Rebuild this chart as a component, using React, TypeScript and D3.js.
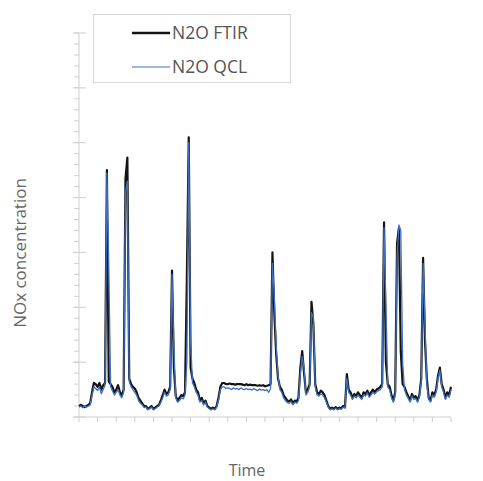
import React from "react";
import * as d3 from "d3";

const ftir: number[] = [
  0.20, 0.22, 0.20, 0.18, 0.20, 0.22, 0.25, 0.45, 0.62, 0.60,
  0.55, 0.62, 0.50, 0.58, 0.62, 4.50, 0.65, 0.60, 0.55, 0.45,
  0.50, 0.58, 0.45, 0.40, 0.50, 4.35, 4.73, 0.70, 0.60, 0.55,
  0.52, 0.45, 0.35, 0.30, 0.25, 0.20, 0.20, 0.15, 0.17, 0.20,
  0.15, 0.17, 0.20, 0.22, 0.30, 0.40, 0.50, 0.42, 0.45, 0.55,
  2.67, 0.90, 0.38, 0.30, 0.35, 0.40, 0.38, 0.45, 2.55, 5.10,
  0.90, 0.70, 0.62, 0.50, 0.45, 0.30, 0.35, 0.25, 0.30, 0.20,
  0.17, 0.15, 0.17, 0.15, 0.20, 0.35, 0.55, 0.62, 0.62, 0.60,
  0.60, 0.61, 0.60, 0.60, 0.59, 0.60, 0.60, 0.60, 0.59, 0.58,
  0.60, 0.58, 0.59, 0.58, 0.58, 0.58, 0.57, 0.58, 0.57, 0.58,
  0.56, 0.57, 0.58, 0.60, 3.00, 1.90, 1.15, 0.70, 0.55, 0.50,
  0.40, 0.35, 0.30, 0.28, 0.32, 0.25, 0.30, 0.28, 0.35, 0.90,
  1.20, 0.80, 0.45, 0.50, 0.60, 2.10, 1.70, 0.60, 0.45, 0.42,
  0.48, 0.45, 0.40, 0.30, 0.20, 0.15, 0.17, 0.15, 0.18, 0.15,
  0.17, 0.16, 0.20, 0.18, 0.78, 0.50, 0.45, 0.35, 0.42, 0.38,
  0.45, 0.40, 0.35, 0.45, 0.42, 0.48, 0.40, 0.45, 0.50, 0.45,
  0.50, 0.52, 0.55, 0.60, 3.55, 1.00, 0.60, 0.55, 0.40, 0.30,
  0.45, 3.17, 3.45, 1.20, 0.60, 0.55, 0.45, 0.38, 0.30, 0.42,
  0.35, 0.38, 0.30, 0.40, 0.70, 2.90, 1.40, 0.70, 0.35, 0.30,
  0.45, 0.40, 0.50, 0.75, 0.90, 0.60, 0.50, 0.35, 0.45, 0.40, 0.55,
];

const qcl: number[] = [
  0.18, 0.20, 0.17, 0.20, 0.18, 0.20, 0.22, 0.40, 0.55, 0.52,
  0.48, 0.55, 0.42, 0.50, 0.58, 4.45, 2.75, 0.55, 0.48, 0.40,
  0.45, 0.50, 0.40, 0.35, 0.45, 4.10, 4.30, 0.65, 0.55, 0.50,
  0.45, 0.40, 0.30, 0.25, 0.22, 0.17, 0.18, 0.13, 0.15, 0.18,
  0.13, 0.15, 0.18, 0.20, 0.27, 0.35, 0.45, 0.38, 0.40, 0.50,
  2.60, 1.30, 0.35, 0.27, 0.30, 0.35, 0.33, 0.40, 1.00, 5.00,
  1.40, 0.62, 0.55, 0.45, 0.40, 0.27, 0.30, 0.22, 0.27, 0.18,
  0.15, 0.13, 0.15, 0.13, 0.18, 0.30, 0.50, 0.55, 0.55, 0.52,
  0.53, 0.52, 0.50, 0.53, 0.51, 0.52, 0.50, 0.53, 0.51, 0.50,
  0.52, 0.50, 0.51, 0.49, 0.52, 0.50, 0.48, 0.51, 0.49, 0.50,
  0.48, 0.50, 0.45, 0.52, 2.80, 2.20, 1.30, 0.75, 0.50, 0.45,
  0.35, 0.30, 0.26, 0.25, 0.28, 0.22, 0.27, 0.25, 0.30, 0.80,
  1.10, 0.90, 0.40, 0.45, 0.55, 1.90, 1.80, 0.55, 0.40, 0.38,
  0.42, 0.40, 0.35, 0.27, 0.18, 0.13, 0.15, 0.13, 0.16, 0.13,
  0.15, 0.14, 0.18, 0.16, 0.70, 0.45, 0.40, 0.32, 0.38, 0.35,
  0.40, 0.36, 0.32, 0.40, 0.38, 0.44, 0.36, 0.40, 0.45, 0.42,
  0.46, 0.48, 0.50, 0.55, 3.45, 2.07, 0.55, 0.50, 0.35, 0.27,
  0.40, 2.90, 3.50, 3.40, 1.00, 0.50, 0.40, 0.34, 0.27, 0.38,
  0.32, 0.34, 0.27, 0.36, 0.65, 2.80, 1.70, 0.60, 0.32, 0.27,
  0.40, 0.36, 0.45, 0.70, 0.85, 0.55, 0.45, 0.32, 0.40, 0.36, 0.50,
];

const seriesNames = ["N2O FTIR", "N2O QCL"];
const seriesColors = ["#141414", "#3f6fc2"];
const xTickValues = d3.range(0, 201, 10);
const yMajorTicks = d3.range(0, 8, 1);
const yMinorTicks = d3.range(0, 7.01, 0.2);

const W = 483;
const H = 481;
const font = "'Open Sans', 'Liberation Sans', sans-serif";

export default function App() {
  const x = d3.scaleLinear().domain([0, 200]).range([79, 451]);
  const y = d3.scaleLinear().domain([0, 7]).range([417, 33]);
  const line = d3
    .line<number>()
    .x((_, i) => x(i))
    .y((v) => y(v));

  const axisColor = "#cfcfcf";
  return (
    <svg
      width={W}
      height={H}
      style={{ position: "absolute", left: 0, top: 0, background: "#fff" }}
    >
      {/* y axis */}
      <line x1={79} x2={79} y1={y(7)} y2={y(0)} stroke={axisColor} strokeWidth={1} />
      {yMinorTicks.map((t, i) => (
        <line key={"m" + i} x1={74} x2={79} y1={y(t)} y2={y(t)} stroke={axisColor} />
      ))}
      {yMajorTicks.map((t) => (
        <line key={"M" + t} x1={73} x2={86} y1={y(t)} y2={y(t)} stroke={axisColor} />
      ))}
      {/* x axis */}
      <line x1={x(0)} x2={x(200)} y1={y(0)} y2={y(0)} stroke={axisColor} />
      {xTickValues.map((t) => (
        <line key={"x" + t} x1={x(t)} x2={x(t)} y1={y(0)} y2={y(0) + 5} stroke={axisColor} />
      ))}

      {/* series */}
      <path d={line(ftir) || ""} fill="none" stroke={seriesColors[0]} strokeWidth={2.2} strokeLinejoin="round" />
      <path d={line(qcl) || ""} fill="none" stroke={seriesColors[1]} strokeWidth={1.3} strokeLinejoin="round" />

      {/* legend */}
      <rect x={93.5} y={14.5} width={197} height={68} fill="#fff" stroke="#d9d9d9" />
      <line x1={132} x2={170} y1={33} y2={33} stroke={seriesColors[0]} strokeWidth={2.5} />
      <line x1={132} x2={170} y1={67} y2={67} stroke={seriesColors[1]} strokeWidth={1.2} />
      <text x={172} y={33} dy="0.35em" fontFamily={font} fontSize={17.5} fill="#555">
        {seriesNames[0]}
      </text>
      <text x={172} y={67} dy="0.35em" fontFamily={font} fontSize={17.5} fill="#555">
        {seriesNames[1]}
      </text>

      {/* axis titles */}
      <text
        transform="translate(20,253) rotate(-90)"
        textAnchor="middle"
        dy="0.35em"
        fontFamily={font}
        fontSize={17}
        fill="#666"
      >
        NOx concentration
      </text>
      <text x={247} y={470} textAnchor="middle" dy="0.35em" fontFamily={font} fontSize={16} fill="#666">
        Time
      </text>
    </svg>
  );
}
